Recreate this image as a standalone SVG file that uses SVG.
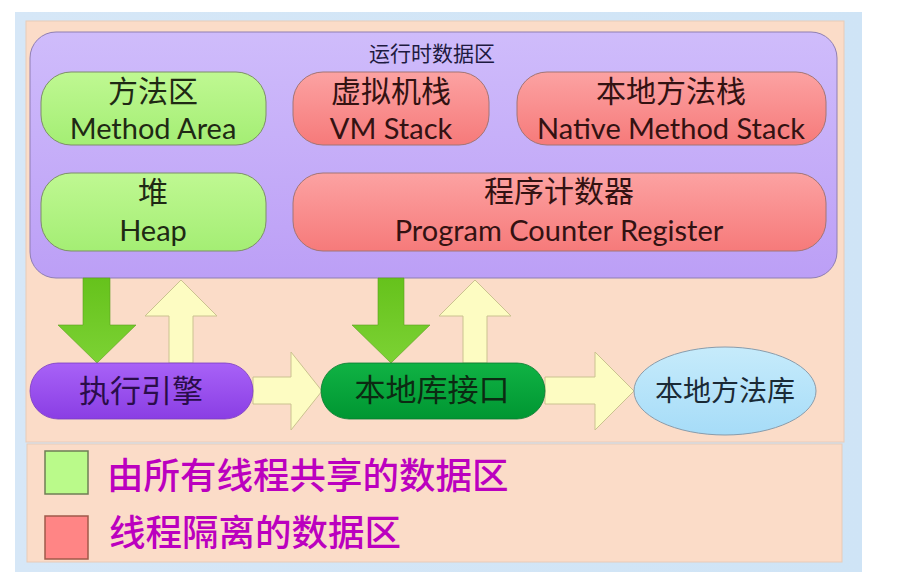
<svg xmlns="http://www.w3.org/2000/svg" width="902" height="577" viewBox="0 0 902 577">
<defs>
<linearGradient id="gPurple" x1="0" y1="0" x2="0" y2="1"><stop offset="0" stop-color="#cfbcfb"/><stop offset="1" stop-color="#bc9ff6"/></linearGradient>
<linearGradient id="gGreen" x1="0" y1="0" x2="0" y2="1"><stop offset="0" stop-color="#bff892"/><stop offset="1" stop-color="#a4ee74"/></linearGradient>
<linearGradient id="gRed" x1="0" y1="0" x2="0" y2="1"><stop offset="0" stop-color="#fca2a2"/><stop offset="1" stop-color="#f67a7a"/></linearGradient>
<linearGradient id="gExec" x1="0" y1="0" x2="0" y2="1"><stop offset="0" stop-color="#a862f7"/><stop offset="1" stop-color="#8a3ee4"/></linearGradient>
<linearGradient id="gNat" x1="0" y1="0" x2="0" y2="1"><stop offset="0" stop-color="#10b244"/><stop offset="1" stop-color="#009632"/></linearGradient>
<linearGradient id="gLib" x1="0" y1="0" x2="0" y2="1"><stop offset="0" stop-color="#c6ebfb"/><stop offset="1" stop-color="#a6dcf8"/></linearGradient>
<linearGradient id="gDown" x1="0" y1="0" x2="0" y2="1"><stop offset="0" stop-color="#66c21c"/><stop offset="1" stop-color="#7cd234"/></linearGradient>
<linearGradient id="gFrame" x1="0" y1="0" x2="1" y2="0"><stop offset="0" stop-color="#d6e7f7"/><stop offset="1" stop-color="#cfe4f6"/></linearGradient>
</defs>
<style>
.cn{font-family:"Noto Sans CJK SC",sans-serif;text-anchor:middle}
.en{font-family:Lato,"Liberation Sans",sans-serif;text-anchor:middle;font-size:29px}
.box{stroke-width:1}
.gbox{fill:url(#gGreen);stroke:#7d8f68}
.rbox{fill:url(#gRed);stroke:#a27575}
.down{fill:url(#gDown);stroke:#5aa020;stroke-width:0.6}
.up{fill:#fdfcc2;stroke:#cbc290;stroke-width:1}
.gt{fill:#1f2914}
.rt{fill:#331212}
.leg{font-family:"Noto Sans CJK SC",sans-serif;font-size:36.5px;fill:#bb00bf;font-weight:500}
</style>
<rect x="0" y="0" width="902" height="577" fill="#ffffff"/>
<rect x="15" y="12" width="847" height="560" fill="url(#gFrame)"/>
<rect x="26" y="21" width="818" height="421" fill="#fbdcc8" stroke="#e8cbb8" stroke-width="1"/>
<rect x="27" y="444" width="815" height="118" fill="#fbdcc8" stroke="#e8cbb8" stroke-width="1"/>

<g id="runtime-area">
<rect x="30" y="32" width="807" height="246" rx="26" fill="url(#gPurple)" stroke="#8f7fb2" stroke-width="1"/>
<text x="432" y="61" class="cn" font-size="21" fill="#1e1a40">运行时数据区</text>
</g>

<g id="method-area">
<rect x="41" y="72" width="225" height="73" rx="30" class="box gbox"/>
<text x="153" y="102" class="cn gt" font-size="30">方法区</text>
<text x="153" y="139" class="en gt">Method Area</text>
</g>
<g id="vm-stack">
<rect x="293" y="72" width="196" height="73" rx="30" class="box rbox"/>
<text x="391" y="102" class="cn rt" font-size="30">虚拟机栈</text>
<text x="391" y="139" class="en rt">VM Stack</text>
</g>
<g id="native-method-stack">
<rect x="517" y="72" width="309" height="73" rx="30" class="box rbox"/>
<text x="671" y="102" class="cn rt" font-size="30">本地方法栈</text>
<text x="671" y="139" class="en rt">Native Method Stack</text>
</g>
<g id="heap">
<rect x="41" y="173" width="225" height="78" rx="30" class="box gbox"/>
<text x="153" y="203" class="cn gt" font-size="30">堆</text>
<text x="153" y="241" class="en gt">Heap</text>
</g>
<g id="pc-register">
<rect x="293" y="173" width="533" height="78" rx="30" class="box rbox"/>
<text x="559" y="202" class="cn rt" font-size="30">程序计数器</text>
<text x="559" y="241" class="en rt">Program Counter Register</text>
</g>

<g id="connectors">
<polygon class="down" points="83,278 110,278 110,325 136,325 97,363 58,325 83,325"/>
<polygon class="up" points="181,280 217,316 193,316 193,363 169,363 169,316 145,316"/>
<polygon class="down" points="378,278 404,278 404,325 430,325 391,363 352,325 378,325"/>
<polygon class="up" points="475,280 511,316 487,316 487,363 463,363 463,316 439,316"/>
<polygon class="up" points="253,377 291,377 291,352 322,391 291,430 291,404 253,404"/>
<polygon class="up" points="545,377 595,377 595,352 634,391 595,430 595,404 545,404"/>
</g>

<g id="execution-engine">
<rect x="30" y="363" width="223" height="56" rx="28" fill="url(#gExec)" stroke="#7a3cc0" stroke-width="0.8"/>
<text x="141" y="402" class="cn" font-size="31" fill="#2a0d4a">执行引擎</text>
</g>
<g id="native-interface">
<rect x="321" y="363" width="224" height="56" rx="28" fill="url(#gNat)" stroke="#0a7a30" stroke-width="0.8"/>
<text x="432" y="401" class="cn" font-size="31" fill="#0c2a12">本地库接口</text>
</g>
<g id="native-library">
<ellipse cx="725" cy="391" rx="91" ry="44" fill="url(#gLib)" stroke="#8a9cab" stroke-width="1"/>
<text x="725" y="401" class="cn" font-size="28" fill="#1a2a36">本地方法库</text>
</g>

<g id="legend">
<rect x="45" y="451" width="43" height="43" fill="#bafa8a" stroke="#6f7e55" stroke-width="1.5"/>
<text x="107" y="489" class="leg">由所有线程共享的数据区</text>
<rect x="45" y="516" width="43" height="43" fill="#ff8585" stroke="#a05a4a" stroke-width="1.5"/>
<text x="109" y="546" class="leg">线程隔离的数据区</text>
</g>
</svg>
